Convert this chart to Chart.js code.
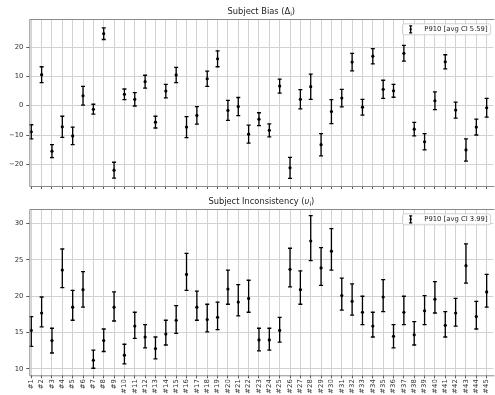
<!DOCTYPE html>
<html><head><meta charset="utf-8">
<script src="https://cdn.jsdelivr.net/npm/chart.js@4/dist/chart.umd.min.js"></script>
<style>
body{margin:0;background:#fff;width:495px;height:395px;overflow:hidden;position:relative;}
canvas{position:absolute;left:0;}
#c1{top:0;} #c2{top:190px;}
</style></head>
<body>
<canvas id="c1" width="495" height="190"></canvas>
<canvas id="c2" width="495" height="205"></canvas>
<script>
// ---- data ----
const subjects = Array.from({length:45},(_,i)=>'#'+(i+1));
const biasValues = [-8.9,10.6,-15.5,-7.2,-10.3,3.4,-1.2,24.6,-22.0,3.9,2.2,8.2,-5.6,5.0,10.5,-7.3,-3.3,9.2,16.0,-1.6,-0.3,-9.7,-4.6,-8.4,6.7,-21.2,2.2,6.5,-13.3,-2.0,2.6,14.9,-0.5,16.9,5.6,5.1,17.9,-8.0,-12.3,1.7,15.0,-1.5,-15.1,-7.3,-0.7];
const biasHalfCI = [2.4,2.7,2.2,3.6,3.0,3.2,1.7,2.0,2.7,1.8,2.3,2.2,2.0,2.3,2.6,3.6,3.0,2.6,2.7,3.4,3.1,3.1,2.2,2.2,2.4,3.6,3.3,4.3,3.8,4.1,3.0,3.0,2.7,2.6,3.1,2.2,2.7,2.3,2.8,3.0,2.4,2.7,3.8,2.7,3.2];
const inconValues = [15.3,17.7,13.9,23.6,18.5,20.9,11.2,13.9,18.5,11.9,15.9,14.4,12.8,14.8,16.7,23.0,18.5,16.8,17.1,21.0,19.2,19.7,14.0,14.0,15.3,23.7,20.9,27.6,23.9,26.2,20.1,19.3,17.8,15.9,19.9,14.5,17.8,14.7,18.0,19.6,16.0,17.7,24.2,17.2,20.6];
const inconLow = [13.1,15.8,12.2,21.2,16.7,18.5,10.1,12.4,16.6,10.7,14.2,12.9,11.4,13.3,14.9,20.8,16.7,15.1,15.4,18.9,17.3,17.8,12.5,12.6,13.7,21.3,18.9,24.9,21.5,23.6,18.1,17.4,16.1,14.4,17.9,12.9,16.1,13.3,16.1,17.7,14.4,15.9,21.8,15.5,18.5];
const inconHigh = [17.2,19.9,15.6,26.5,20.8,23.4,12.6,15.5,20.6,13.4,17.8,16.1,14.4,16.7,18.7,25.9,20.7,18.9,19.2,23.6,21.6,22.2,15.6,15.6,17.1,26.6,23.5,31.1,26.7,29.3,22.5,21.7,20.0,17.8,22.3,16.1,20.0,16.5,20.1,22.0,17.9,19.7,27.2,19.3,23.0];
const biasTicks = [-20,-10,0,10,20];
const inconTicks = [10,15,20,25,30];
const biasLabel = 'P910 [avg CI 5.59]';
const inconLabel = 'P910 [avg CI 3.99]';
const biasTitle = ['Subject Bias (', 'Δ', 'i', ')'];
const inconTitle = ['Subject Inconsistency (', 'υ', 'i', ')'];

const FONT = "'DejaVu Sans', sans-serif";

const errorBarPlugin = {
  id:'errbars',
  afterDatasetsDraw(chart){
    const o = chart.options.plugins.errbars; if(!o) return;
    const {ctx, scales:{x,y}} = chart;
    ctx.save();
    ctx.strokeStyle = '#000'; ctx.lineWidth = 1.3;
    o.low.forEach((lo,i)=>{
      const px = x.getPixelForValue(i+1);
      const y1 = y.getPixelForValue(lo), y2 = y.getPixelForValue(o.high[i]);
      ctx.beginPath();
      ctx.moveTo(px,y1); ctx.lineTo(px,y2);
      ctx.moveTo(px-2,y1); ctx.lineTo(px+2,y1);
      ctx.moveTo(px-2,y2); ctx.lineTo(px+2,y2);
      ctx.stroke();
    });
    ctx.restore();
  },
  afterDraw(chart){
    const o = chart.options.plugins.errbars; if(!o) return;
    const {ctx, chartArea:ca} = chart;
    ctx.save();
    // frame
    ctx.strokeStyle = '#8a8a8a'; ctx.lineWidth = 1;
    ctx.beginPath();
    ctx.moveTo(ca.right+1, ca.top+0.5); ctx.lineTo(ca.left+0.5, ca.top+0.5); ctx.lineTo(ca.left+0.5, ca.bottom+0.5); ctx.lineTo(ca.right+1, ca.bottom+0.5);
    ctx.stroke();
    // title
    const t = o.title;
    ctx.fillStyle = '#222'; ctx.textBaseline = 'alphabetic';
    const big = "8.3px "+FONT, small = "6px "+FONT;
    ctx.font = big; const w0 = ctx.measureText(t[0]).width, w3 = ctx.measureText(t[3]).width;
    ctx.font = (t[1]==='υ' ? 'italic ' : '') + big; const w1 = ctx.measureText(t[1]).width;
    ctx.font = small; const w2 = ctx.measureText(t[2]).width;
    let tx = (ca.left+ca.right)/2 - (w0+w1+w2+w3)/2; const ty = ca.top - 5;
    ctx.font = big; ctx.fillText(t[0], tx, ty); tx += w0;
    ctx.font = (t[1]==='υ' ? 'italic ' : '') + big; ctx.fillText(t[1], tx, ty); tx += w1;
    ctx.font = small; ctx.fillText(t[2], tx, ty+2); tx += w2;
    ctx.font = big; ctx.fillText(t[3], tx, ty);
    // legend
    ctx.font = "6.8px "+FONT;
    const tw = ctx.measureText(o.label).width;
    const bx2 = ca.right - 3.3, by1 = ca.top + 4.3, bh = 11;
    const bx1 = bx2 - tw - 2.5 - 13.7 - 8.7;
    ctx.fillStyle = 'rgba(255,255,255,0.85)'; ctx.strokeStyle = '#d0d0d0';
    ctx.beginPath(); ctx.roundRect(bx1+0.5, by1+0.5, bx2-bx1, bh, 2); ctx.fill(); ctx.stroke();
    const ix = bx1 + 8.7, iy = by1 + bh/2 + 0.5;
    ctx.strokeStyle = '#000'; ctx.lineWidth = 1.2; ctx.beginPath();
    ctx.moveTo(ix, iy-3.5); ctx.lineTo(ix, iy+3.5);
    ctx.moveTo(ix-1.5, iy-3.5); ctx.lineTo(ix+1.5, iy-3.5);
    ctx.moveTo(ix-1.5, iy+3.5); ctx.lineTo(ix+1.5, iy+3.5); ctx.stroke();
    ctx.fillStyle = '#000'; ctx.fillRect(ix-1, iy-1, 2, 2);
    ctx.fillStyle = '#222'; ctx.textBaseline = 'middle';
    ctx.fillText(o.label, ix + 13.7, iy);
    ctx.restore();
  }
};

function makeChart(id, values, low, high, yMin, yMax, yTicks, label, title, showX, xHeight){
  return new Chart(document.getElementById(id), {
    type:'scatter',
    data:{datasets:[{label, data: values.map((v,i)=>({x:i+1, y:v})),
      pointRadius:1.6, pointHoverRadius:1.6, pointBackgroundColor:'#000', pointBorderColor:'#000', pointBorderWidth:0}]},
    options:{
      responsive:false, animation:false, devicePixelRatio:1,
      layout:{padding:{top:19, left:0, right:0, bottom:0}},
      plugins:{legend:{display:false}, tooltip:{enabled:false},
        errbars:{low, high, label, title}},
      scales:{
        x:{type:'linear', min:0.81, max:45.65,
          afterBuildTicks(s){ s.ticks = subjects.map((_,i)=>({value:i+1})); },
          afterFit(s){ s.height = xHeight; s.paddingLeft = 0; s.paddingRight = 0; },
          grid:{color:'#d2d2d2', lineWidth:1, drawTicks:true, tickLength:3, tickColor:'#555'},
          border:{display:false},
          ticks:{display:showX, autoSkip:false, minRotation:90, maxRotation:90, padding:1,
            font:{family:FONT, size:6.8}, color:'#333',
            callback:(v,i)=>subjects[i]}
        },
        y:{min:yMin, max:yMax,
          afterBuildTicks(s){ s.ticks = yTicks.map(v=>({value:v})); },
          afterFit(s){ s.width = 29.3; s.paddingTop = 0; s.paddingBottom = 0; },
          grid:{color:'#d2d2d2', lineWidth:1, drawTicks:true, tickLength:3, tickColor:'#555'},
          border:{display:false},
          ticks:{padding:3, font:{family:FONT, size:6.8}, color:'#333',
            callback:v=>String(v).replace('-', '\u2212')}
        }
      }
    },
    plugins:[errorBarPlugin]
  });
}

makeChart('c1', biasValues, biasValues.map((v,i)=>v-biasHalfCI[i]), biasValues.map((v,i)=>v+biasHalfCI[i]),
  -27.4, 29.6, biasTicks, biasLabel, biasTitle, false, 4);
makeChart('c2', inconValues, inconLow, inconHigh, 9.13, 32.0, inconTicks, inconLabel, inconTitle, true, 19.7);
</script>
</body></html>
